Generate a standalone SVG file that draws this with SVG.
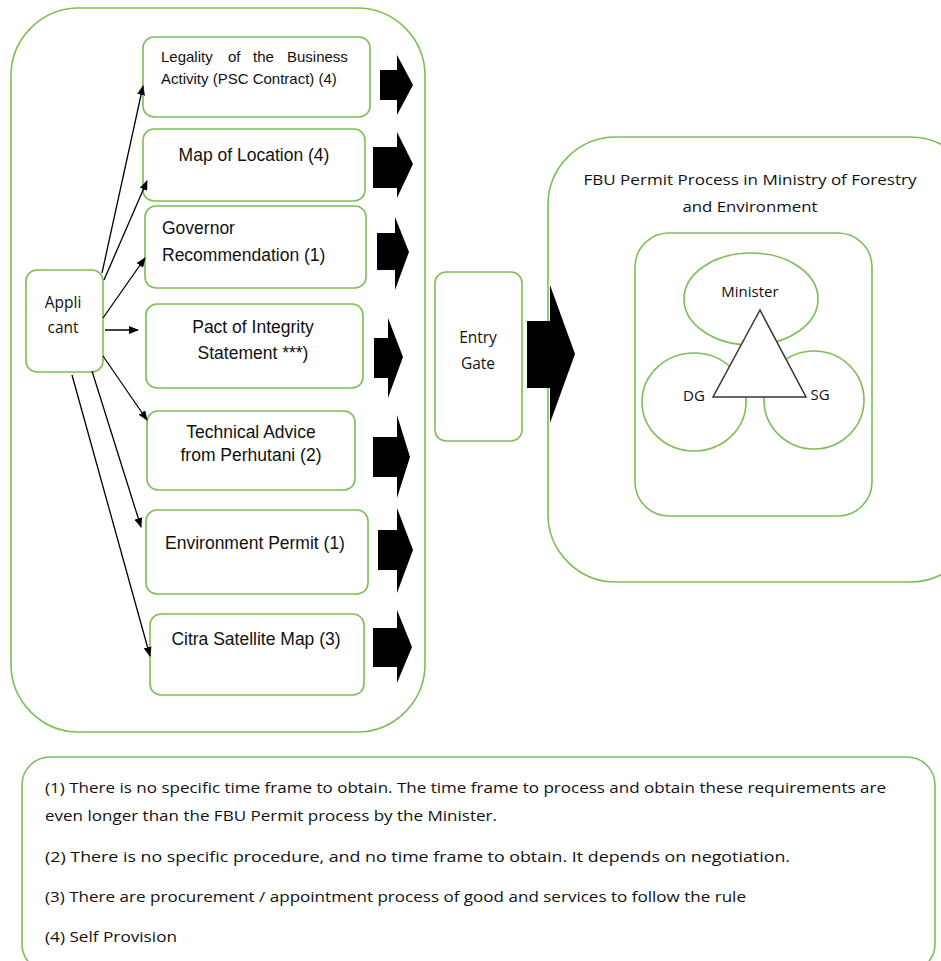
<svg xmlns="http://www.w3.org/2000/svg" width="941" height="961" viewBox="0 0 941 961">
<defs>
<marker id="ah" markerWidth="10" markerHeight="8" refX="9" refY="4" orient="auto" markerUnits="userSpaceOnUse">
<path d="M0,0 L10,4 L0,8 Z" fill="#000"/>
</marker>
<style>
.g{fill:#fff;stroke:#7cbf56;stroke-width:1.6}
.gn{fill:none;stroke:#7cbf56;stroke-width:1.6}
.a{font-family:"Liberation Sans",Arial,sans-serif;fill:#111}
.c{font-family:"Open Sans","Noto Sans","Liberation Sans",sans-serif;fill:#111}
.ln{stroke:#000;stroke-width:1.3;fill:none;marker-end:url(#ah)}
.blk{fill:#000}
</style>
</defs>
<rect width="941" height="961" fill="#fff"/>

<g id="applicant-area">
<rect class="g" x="11" y="8" width="414" height="724" rx="68"/>
</g>

<g id="applicant">
<rect class="g" x="26" y="270" width="77" height="102" rx="11"/>
<text class="c" x="63" y="308" font-size="15.5" text-anchor="middle">Appli</text>
<text class="c" x="63" y="333" font-size="15.5" text-anchor="middle">cant</text>
</g>

<g id="legality">
<rect class="g" x="143" y="37" width="227" height="80" rx="11"/>
<text class="a" y="62" font-size="15"><tspan x="161">Legality</tspan><tspan x="228">of</tspan><tspan x="253">the</tspan><tspan x="287">Business</tspan></text>
<text class="a" x="161" y="84" font-size="15">Activity (PSC Contract) (4)</text>
</g>

<g id="map-location">
<rect class="g" x="143" y="129" width="222" height="72" rx="11"/>
<text class="a" x="254" y="161" font-size="17.5" text-anchor="middle">Map of Location (4)</text>
</g>

<g id="governor">
<rect class="g" x="145" y="206" width="221" height="82" rx="11"/>
<text class="a" x="162" y="234" font-size="17.5">Governor</text>
<text class="a" x="162" y="261" font-size="17.5">Recommendation (1)</text>
</g>

<g id="pact">
<rect class="g" x="146" y="304" width="217" height="84" rx="11"/>
<text class="a" x="253" y="333" font-size="17.5" text-anchor="middle">Pact of Integrity</text>
<text class="a" x="253" y="359" font-size="17.5" text-anchor="middle">Statement ***)</text>
</g>

<g id="technical">
<rect class="g" x="147" y="411" width="208" height="79" rx="11"/>
<text class="a" x="251" y="438" font-size="17.5" text-anchor="middle">Technical Advice</text>
<text class="a" x="251" y="461" font-size="17.5" text-anchor="middle">from Perhutani (2)</text>
</g>

<g id="environment">
<rect class="g" x="146" y="510" width="222" height="84" rx="11"/>
<text class="a" x="255" y="549" font-size="17.5" text-anchor="middle">Environment Permit (1)</text>
</g>

<g id="citra">
<rect class="g" x="150" y="614" width="214" height="81" rx="11"/>
<text class="a" x="256" y="645" font-size="17.5" text-anchor="middle">Citra Satellite Map (3)</text>
</g>

<g id="entry-gate">
<rect class="g" x="435" y="272" width="87" height="169" rx="11"/>
<text class="c" x="478" y="343" font-size="15.5" text-anchor="middle">Entry</text>
<text class="c" x="478" y="369" font-size="15.5" text-anchor="middle">Gate</text>
</g>

<g id="fbu-process">
<rect class="g" x="548" y="137" width="430" height="445" rx="68"/>
<text class="c" x="750" y="185" font-size="15" text-anchor="middle" textLength="333" lengthAdjust="spacingAndGlyphs">FBU Permit Process in Ministry of Forestry</text>
<text class="c" x="750" y="212" font-size="15" text-anchor="middle" textLength="135" lengthAdjust="spacingAndGlyphs">and Environment</text>
</g>

<g id="leadership">
<rect class="g" x="635" y="233" width="237" height="283" rx="34"/>
<ellipse class="gn" cx="751" cy="299" rx="67" ry="46"/>
<ellipse class="gn" cx="694" cy="402" rx="52" ry="49"/>
<ellipse class="gn" cx="814" cy="400" rx="50" ry="49"/>
<polygon points="760,310 713,397 806,397" fill="#fff" stroke="#333" stroke-width="1.5"/>
<text class="c" x="750" y="297" font-size="15" text-anchor="middle">Minister</text>
<text class="c" x="694" y="401" font-size="15" text-anchor="middle">DG</text>
<text class="c" x="820" y="400" font-size="15" text-anchor="middle">SG</text>
</g>

<g id="block-arrows">
<polygon class="blk" points="380,70 397,70 397,55 413,85 397,115 397,100 380,100"/>
<polygon class="blk" points="373,147 397,147 397,132 413,164 397,198 397,188 373,188"/>
<polygon class="blk" points="377,233 395,233 395,217 409,252 395,290 395,270 377,270"/>
<polygon class="blk" points="374,338 388,338 388,318 403,357 388,398 388,378 374,378"/>
<polygon class="blk" points="373,437 397,437 397,415 410,457 397,498 397,477 373,477"/>
<polygon class="blk" points="378,530 397,530 397,508 413,550 397,593 397,570 378,570"/>
<polygon class="blk" points="373,628 397,628 397,610 412,647 397,683 397,667 373,667"/>
<polygon class="blk" points="527,321 550,321 550,285 575,354 550,423 550,388 527,388"/>
</g>

<g id="connectors">
<line class="ln" x1="102" y1="273" x2="143" y2="86"/>
<line class="ln" x1="104" y1="280" x2="147" y2="181"/>
<line class="ln" x1="103" y1="318" x2="145" y2="258"/>
<line class="ln" x1="105" y1="330" x2="138" y2="330"/>
<line class="ln" x1="103" y1="356" x2="147" y2="420"/>
<line class="ln" x1="92" y1="371" x2="141" y2="527"/>
<line class="ln" x1="72" y1="375" x2="150" y2="656"/>
</g>

<g id="legend">
<rect class="g" x="22" y="757" width="913" height="215" rx="28"/>
<text class="c" x="45" y="793" font-size="15" textLength="841" lengthAdjust="spacingAndGlyphs">(1) There is no specific time frame to obtain. The time frame to process and obtain these requirements are</text>
<text class="c" x="45" y="821" font-size="15" textLength="452" lengthAdjust="spacingAndGlyphs">even longer than the FBU Permit process by the Minister.</text>
<text class="c" x="45" y="862" font-size="15" textLength="745" lengthAdjust="spacingAndGlyphs">(2) There is no specific procedure, and no time frame to obtain. It depends on negotiation.</text>
<text class="c" x="45" y="902" font-size="15" textLength="701" lengthAdjust="spacingAndGlyphs">(3) There are procurement / appointment process of good and services to follow the rule</text>
<text class="c" x="45" y="942" font-size="15" textLength="132" lengthAdjust="spacingAndGlyphs">(4) Self Provision</text>
</g>
</svg>
